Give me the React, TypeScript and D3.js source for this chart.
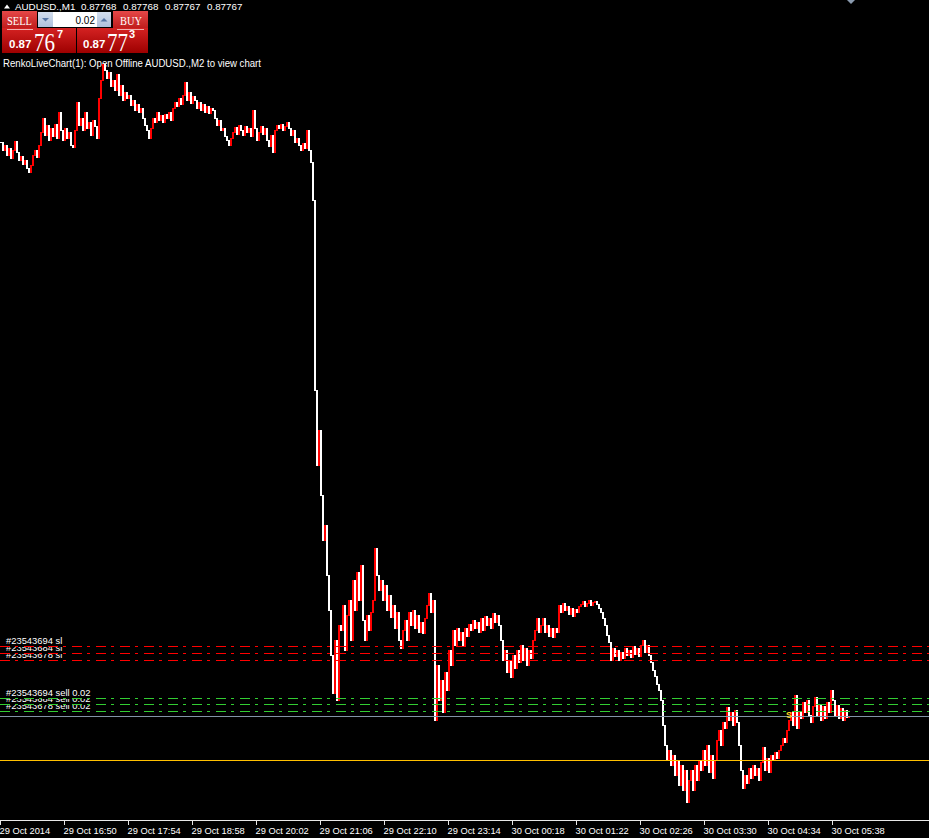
import React from "react";
import * as d3 from "d3";

const W = 929;
const H = 838;

// M2 closes, in price points (1 point = 0.00001), starting 29 Oct 2014 15:46
const closePts = [
  88341, 88333, 88338, 88328, 88335, 88325, 88333, 88342, 88331, 88323,
  88327, 88319, 88323, 88315, 88311, 88318, 88328, 88333, 88326, 88338,
  88351, 88365, 88348, 88358, 88343, 88355, 88347, 88359, 88345, 88371,
  88353, 88343, 88355, 88345, 88351, 88338, 88336, 88353, 88381, 88358,
  88365, 88353, 88371, 88355, 88361, 88348, 88363, 88357, 88345, 88385,
  88403, 88419, 88413, 88405, 88411, 88397, 88403, 88393, 88409, 88388,
  88398, 88383, 88391, 88385, 88388, 88378, 88383, 88373, 88379, 88371,
  88375, 88365, 88358, 88353, 88345, 88355, 88365, 88361, 88371, 88363,
  88368, 88361, 88369, 88365, 88371, 88363, 88375, 88381, 88377, 88385,
  88379, 88388, 88401, 88383, 88391, 88380, 88387, 88383, 88375, 88381,
  88373, 88379, 88371, 88377, 88370, 88375, 88373, 88365, 88358, 88363,
  88353, 88355, 88347, 88343, 88338, 88345, 88351, 88356, 88349, 88358,
  88353, 88348, 88357, 88351, 88355, 88347, 88373, 88355, 88343, 88351,
  88357, 88349, 88355, 88343, 88337, 88348, 88331, 88353, 88358, 88355,
  88359, 88353, 88357, 88361, 88355, 88348, 88353, 88341, 88345, 88338,
  88333, 88340, 88335, 88353, 88333, 88321, 88283, 88093, 88018, 88053,
  87988, 87943, 87958, 87908, 87873, 87828, 87790, 87843, 87783, 87858,
  87853, 87878, 87833, 87868, 87883, 87843, 87903, 87873, 87911, 87883,
  87918, 87863, 87843, 87868, 87853, 87871, 87883, 87935, 87908, 87893,
  87903, 87883, 87898, 87873, 87888, 87866, 87878, 87855, 87871, 87843,
  87835, 87853, 87863, 87843, 87871, 87858, 87873, 87855, 87868, 87851,
  87861, 87850, 87865, 87878, 87890, 87871, 87883, 87763, 87818, 87783,
  87803, 87771, 87811, 87793, 87833, 87818, 87853, 87838, 87855, 87843,
  87851, 87838, 87855, 87847, 87859, 87853, 87863, 87855, 87861, 87851,
  87865, 87853, 87867, 87858, 87865, 87855, 87870, 87861, 87868, 87858,
  87843, 87823, 87833, 87811, 87823, 87806, 87828, 87815, 87833, 87821,
  87838, 87823, 87835, 87818, 87833, 87825, 87843, 87853, 87865, 87851,
  87858, 87865, 87851, 87858, 87847, 87855, 87846, 87855, 87851, 87878,
  87871, 87880, 87873, 87877, 87869, 87875, 87867, 87874, 87871, 87877,
  87879, 87882, 87877, 87880, 87883, 87878, 87881, 87882, 87879, 87875,
  87871, 87865, 87858, 87848, 87841, 87823, 87835, 87827, 87833, 87823,
  87831, 87825, 87835, 87828, 87833, 87826, 87837, 87829, 87835, 87827,
  87838, 87843, 87831, 87838, 87828, 87821, 87813, 87807, 87799, 87793,
  87783, 87758, 87738, 87723, 87733, 87718, 87728, 87708, 87723, 87698,
  87718, 87693, 87713, 87681, 87703, 87713, 87693, 87718, 87703, 87723,
  87713, 87733, 87718, 87738, 87711, 87728, 87705, 87723, 87743, 87753,
  87738, 87761, 87755, 87776, 87763, 87771, 87758, 87773, 87761, 87738,
  87713, 87695, 87708, 87700, 87715, 87705, 87718, 87708, 87715, 87703,
  87721, 87736, 87713, 87725, 87711, 87728, 87723, 87731, 87725, 87733,
  87738, 87745, 87741, 87753, 87763, 87771, 87758, 87788, 87755, 87771,
  87765, 87781, 87771, 87783, 87768, 87761, 87777, 87786, 87768, 87778,
  87763, 87777, 87765, 87781, 87771, 87793, 87783, 87768, 87778, 87765,
  87775, 87763, 87773, 87766, 87767,
];
const startTimeStr = "2014-10-29 15:46";
const barMinutes = 2;

const tickTimes = [
  "2014-10-29 15:46", "2014-10-29 16:50", "2014-10-29 17:54", "2014-10-29 18:58",
  "2014-10-29 20:02", "2014-10-29 21:06", "2014-10-29 22:10", "2014-10-29 23:14",
  "2014-10-30 00:18", "2014-10-30 01:22", "2014-10-30 02:26", "2014-10-30 03:30",
  "2014-10-30 04:34", "2014-10-30 05:38",
];
const tickLabels = [
  "29 Oct 2014", "29 Oct 16:50", "29 Oct 17:54", "29 Oct 18:58",
  "29 Oct 20:02", "29 Oct 21:06", "29 Oct 22:10", "29 Oct 23:14",
  "30 Oct 00:18", "30 Oct 01:22", "30 Oct 02:26", "30 Oct 03:30",
  "30 Oct 04:34", "30 Oct 05:38",
];

const orderTickets = ["#23543694", "#23543684", "#23543678"];
const slLevels = [0.87837, 0.8783, 0.87823];
const entryLevels = [0.87785, 0.87779, 0.87772];
const orderLots = ["0.02", "0.02", "0.02"];
const bidLevel = 0.87767;
const hLineLevel = 0.87723;
const sellMarkTime = "2014-10-30 04:55";
const sellMarkPrice = 0.87768;

const symbolName = "AUDUSD.,M1";
const headerQuotes = ["0.87768", "0.87768", "0.87767", "0.87767"];
const commentText = "RenkoLiveChart(1): Open Offline AUDUSD.,M2 to view chart";
const lotValue = "0.02";
const bidParts = ["0.87", "76", "7"];
const askParts = ["0.87", "77", "3"];

const parse = d3.timeParse("%Y-%m-%d %H:%M");
const FONT = "'Liberation Sans', Arial, sans-serif";
const SERIF = "'Liberation Serif', 'Times New Roman', serif";

export default function App() {
  const start = parse(startTimeStr) as Date;
  const x = d3
    .scaleTime()
    .domain([start, d3.timeMinute.offset(start, W)])
    .range([0, W]);
  const y = d3.scaleLinear().domain([0.87663, 0.88483]).range([820, 0]);

  const closes = closePts.map((p) => p / 100000);
  const bars = closes.map((c, i) => {
    const o = i > 0 ? closes[i - 1] : c;
    const t = d3.timeMinute.offset(start, i * barMinutes);
    const top = Math.round(y(Math.max(o, c)));
    const bot = Math.round(y(Math.min(o, c)));
    return {
      x: Math.round(x(t)),
      y: top,
      h: Math.max(1, bot - top + 1),
      up: c > o,
    };
  });

  const py = (v: number) => Math.round(y(v)) + 0.5;
  const dash = "10 5 3 6";

  const slY = slLevels.map((v) => Math.round(y(v)));
  const enY = entryLevels.map((v) => Math.round(y(v)));

  const levelLabels = (ys: number[], texts: string[], idp: string) =>
    ys.map((ly, i) => {
      const clip = i > 0 ? `url(#${idp}${i})` : undefined;
      return (
        <g key={idp + i}>
          {i > 0 && (
            <clipPath id={`${idp}${i}`}>
              <rect x={0} y={ys[i - 1] + 1} width={200} height={ly - ys[i - 1] - 1} />
            </clipPath>
          )}
          <text
            x={6}
            y={ly - 2}
            fill="#ffffff"
            fontSize={9.4}
            fontFamily={FONT}
            clipPath={clip}
          >
            {texts[i]}
          </text>
        </g>
      );
    });

  const sellMarkX = x(parse(sellMarkTime) as Date);

  return (
    <svg
      width={W}
      height={H}
      style={{ position: "absolute", left: 0, top: 0, display: "block" }}
    >
      <defs>
        <linearGradient id="btnG" x1="0" y1="0" x2="0" y2="1">
          <stop offset="0" stopColor="#E54848" />
          <stop offset="1" stopColor="#BE1A1A" />
        </linearGradient>
        <linearGradient id="pxG" x1="0" y1="0" x2="0" y2="1">
          <stop offset="0" stopColor="#D42222" />
          <stop offset="1" stopColor="#9E0000" />
        </linearGradient>
        <linearGradient id="spG" x1="0" y1="0" x2="0" y2="1">
          <stop offset="0" stopColor="#D3DEEE" />
          <stop offset="1" stopColor="#AEC0DC" />
        </linearGradient>
      </defs>
      <rect x={0} y={0} width={W} height={H} fill="#000000" />

      {/* comment (under bars) */}
      <text x={3} y={67} fill="#ffffff" fontSize={10} fontFamily={FONT} textLength={258} lengthAdjust="spacingAndGlyphs">
        {commentText}
      </text>

      {/* bars */}
      <g shapeRendering="crispEdges">
        {bars.map((b, i) => (
          <rect key={i} x={b.x} y={b.y} width={2} height={b.h} fill={b.up ? "#FF0000" : "#FFFFFF"} />
        ))}
      </g>

      {/* level lines */}
      <g shapeRendering="crispEdges">
        <line x1={0} x2={W} y1={py(hLineLevel)} y2={py(hLineLevel)} stroke="#FFC000" strokeWidth={1} />
        <line x1={0} x2={W} y1={py(bidLevel)} y2={py(bidLevel)} stroke="#8393A6" strokeWidth={1} />
        {slLevels.map((v, i) => (
          <line key={"sl" + i} x1={0} x2={W} y1={py(v)} y2={py(v)} stroke="#FF0000" strokeWidth={1} strokeDasharray={dash} />
        ))}
        {entryLevels.map((v, i) => (
          <line key={"en" + i} x1={0} x2={W} y1={py(v)} y2={py(v)} stroke="#32CD32" strokeWidth={1} strokeDasharray={dash} />
        ))}
      </g>

      {levelLabels(slY, orderTickets.map((t) => `${t} sl`), "slc")}
      {levelLabels(enY, orderTickets.map((t, i) => `${t} sell ${orderLots[i]}`), "enc")}

      <text x={sellMarkX} y={Math.round(y(sellMarkPrice)) + 3} fill="#FFD21E" fontSize={9} fontWeight="bold" fontFamily={FONT} textAnchor="middle">
        S
      </text>

      {/* x axis */}
      <g shapeRendering="crispEdges">
        <line x1={0} x2={W} y1={820.5} y2={820.5} stroke="#E8E8E8" />
        {tickTimes.map((t, i) => {
          const tx = Math.round(x(parse(t) as Date)) + 0.5;
          return <line key={"tk" + i} x1={tx} x2={tx} y1={821} y2={825} stroke="#E8E8E8" />;
        })}
      </g>
      {tickLabels.map((l, i) => (
        <text key={"tl" + i} x={Math.round(x(parse(tickTimes[i]) as Date)) - 0.5} y={834} fill="#ffffff" fontSize={9.3} fontFamily={FONT}>
          {l}
        </text>
      ))}

      {/* header */}
      <polygon points="4,8.5 10,8.5 7,4.5" fill="#ffffff" />
      <text x={15} y={10} fill="#ffffff" fontSize={9.8} fontFamily={FONT}>
        {symbolName}
      </text>
      {headerQuotes.map((q, i) => (
        <text key={"hq" + i} x={81 + i * 42} y={10} fill="#ffffff" fontSize={9.8} fontFamily={FONT}>
          {q}
        </text>
      ))}

      {/* one click trading panel */}
      <g>
        <rect x={2} y={11} width={35} height={18} fill="url(#btnG)" />
        <rect x={2} y={28} width={74} height={25} fill="url(#pxG)" />
        <rect x={113} y={11} width={35} height={18} fill="url(#btnG)" />
        <rect x={77} y={28} width={71} height={25} fill="url(#pxG)" />
        <line x1={7} x2={33} y1={29.5} y2={29.5} stroke="#F2B0B0" strokeWidth={1} />
        <line x1={117} x2={144} y1={29.5} y2={29.5} stroke="#F2B0B0" strokeWidth={1} />
        <text x={7} y={25} fill="#ffffff" fontSize={13} fontFamily={SERIF} textLength={25} lengthAdjust="spacingAndGlyphs">
          SELL
        </text>
        <text x={120} y={25} fill="#ffffff" fontSize={13} fontFamily={SERIF} textLength={22} lengthAdjust="spacingAndGlyphs">
          BUY
        </text>

        <rect x={38} y={12} width={15} height={15} fill="url(#spG)" />
        <polygon points="42,18 49,18 45.5,21.5" fill="#5676A6" />
        <rect x={53} y={12} width={44} height={15} fill="#ffffff" />
        <rect x={97} y={12} width={14} height={15} fill="url(#spG)" />
        <polygon points="100.5,21.5 107.5,21.5 104,18" fill="#5676A6" />
        <text x={95} y={24} fill="#000000" fontSize={10} fontFamily={FONT} textAnchor="end">
          {lotValue}
        </text>

        <text x={9} y={48} fill="#ffffff" fontSize={11.5} fontWeight="bold" fontFamily={FONT}>
          {bidParts[0]}
        </text>
        <text x={34} y={51} fill="#ffffff" fontSize={26} fontFamily={SERIF} textLength={21} lengthAdjust="spacingAndGlyphs">
          {bidParts[1]}
        </text>
        <text x={57} y={38} fill="#ffffff" fontSize={11} fontWeight="bold" fontFamily={FONT}>
          {bidParts[2]}
        </text>

        <text x={83} y={48} fill="#ffffff" fontSize={11.5} fontWeight="bold" fontFamily={FONT}>
          {askParts[0]}
        </text>
        <text x={107} y={51} fill="#ffffff" fontSize={26} fontFamily={SERIF} textLength={21} lengthAdjust="spacingAndGlyphs">
          {askParts[1]}
        </text>
        <text x={129} y={38} fill="#ffffff" fontSize={11} fontWeight="bold" fontFamily={FONT}>
          {askParts[2]}
        </text>
      </g>

      {/* chart shift marker */}
      <polygon points="847,0 855,0 851,4" fill="#8A9AAE" />
    </svg>
  );
}
